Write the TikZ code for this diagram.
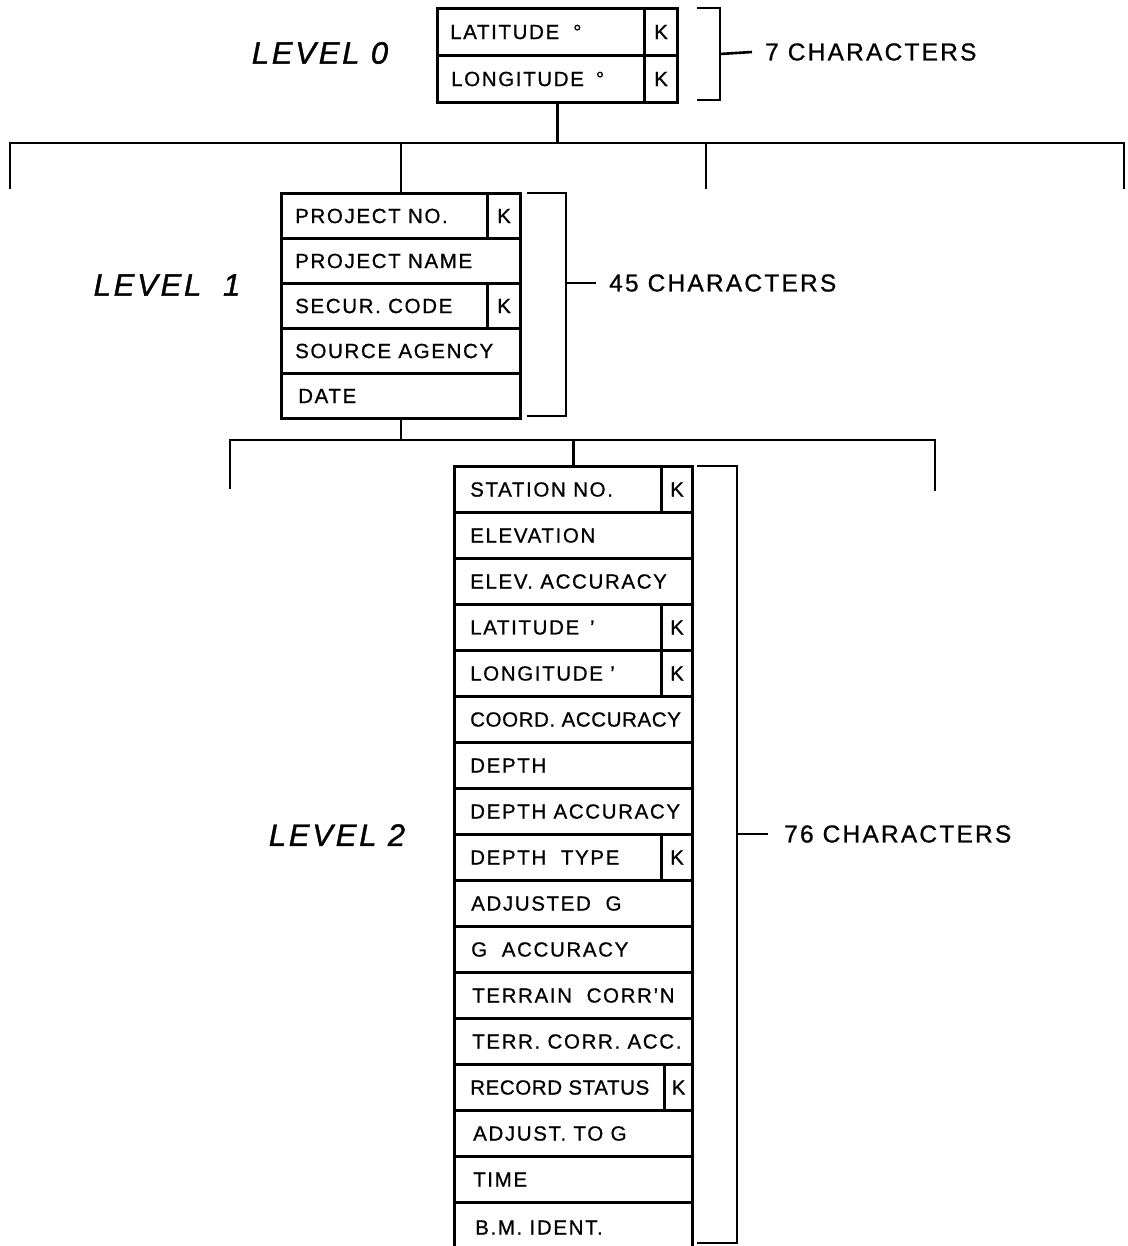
\documentclass[tikz,border=0pt]{standalone}
\usepackage{fontspec}
\setmainfont{Liberation Sans}
\newfontfamily\rowfam{Liberation Sans}[LetterSpace=8,FakeBold=0.8]
\newfontfamily\tightfam{Liberation Sans}[LetterSpace=3,FakeBold=0.8]
\newfontfamily\charfam{Liberation Sans}[LetterSpace=9,FakeBold=0.8]
\newfontfamily\levfam{Liberation Sans}[LetterSpace=9,FakeBold=1.2]
\tikzset{
  cell/.style={draw, line width=3pt, rectangle, inner sep=0pt, font=\rowfam\fontsize{20.5}{24}\selectfont},
  rowtxt/.style={inner sep=0pt, font=\rowfam\fontsize{20.5}{24}\selectfont},
  wire/.style={line width=2.8pt, line cap=rect},
  brk/.style={line width=2.6pt},
  chars/.style={inner sep=0pt, anchor=west, font=\charfam\fontsize{24.5}{28}\selectfont},
  lev/.style={inner sep=0pt, font=\levfam\itshape\fontsize{31}{36}\selectfont}
}
% name, x, y(top), width, height, offset, text
\newcommand\cellrow[7]{%
  \node[cell, minimum width=#4pt, minimum height=#5pt, anchor=north west] (#1) at (#2,#3) {};
  \node[rowtxt, anchor=west] (#1t) at ([xshift=#6pt]#1.west) {#7};}
% name, parent, width, height
\newcommand\kcell[4]{%
  \node[cell, minimum width=#3pt, minimum height=#4pt, anchor=north east] (#1) at (#2.north east) {K};}
\begin{document}
\begin{tikzpicture}[x=1pt,y=-1pt]
\useasboundingbox (0,0) rectangle (1127,1246);
% ---------- LEVEL 0 ----------
\cellrow{a1}{436}{7}{240}{47}{14}{LATITUDE\hspace{14pt}°}
\cellrow{a2}{436}{54}{240}{47}{15}{LONGITUDE\hspace{12pt}°}
\kcell{a1k}{a1}{33}{47}
\kcell{a2k}{a2}{33}{47}
\node[lev] (lev0) at (320,53) {LEVEL 0};
\draw[brk] (697,8) -- (720,8) -- (720,100) -- (697,100);
\coordinate (br0) at (720,54);
\node[chars] (ch0) at (765,52) {7 CHARACTERS};
\draw[brk] (br0) -- ([xshift=-13pt]ch0.west);
% ---------- connectors level 0 -> 1 ----------
\coordinate (bus0) at (557,143);
\coordinate (bus0L) at (10,143);
\coordinate (bus0R) at (1124,143);
\coordinate (d0a) at (10,188);
\coordinate (d0b) at (706,188);
\coordinate (d0c) at (1124,188);
\draw[wire] (a2.south) -- (a2.south |- bus0);
\draw[wire] (d0a) -- (bus0L) -- (bus0R) -- (d0c);
\draw[wire] (d0b |- bus0) -- (d0b);
% ---------- LEVEL 1 ----------
\cellrow{b1}{280}{192}{239}{45}{15}{PROJECT NO.}
\cellrow{b2}{280}{237}{239}{45}{15}{PROJECT NAME}
\cellrow{b3}{280}{282}{239}{45}{15}{SECUR. CODE}
\cellrow{b4}{280}{327}{239}{45}{15}{SOURCE AGENCY}
\cellrow{b5}{280}{372}{239}{45}{18}{DATE}
\kcell{b1k}{b1}{33}{45}
\kcell{b3k}{b3}{33}{45}
\draw[wire] (b1.north |- bus0) -- (b1.north);
\node[lev] (lev1) at (167,285) {LEVEL\hspace{0.7em}1};
\draw[brk] (527,193) -- (566,193) -- (566,416) -- (527,416);
\coordinate (br1) at (566,283);
\node[chars] (ch1) at (609,283) {45 CHARACTERS};
\draw[brk] (br1) -- ([xshift=-13pt]ch1.west);
% ---------- connectors level 1 -> 2 ----------
\coordinate (bus1) at (398,440);
\coordinate (bus1L) at (230,440);
\coordinate (bus1R) at (935,440);
\coordinate (d1a) at (230,488);
\coordinate (d1c) at (935,490);
\draw[wire] (b5.south) -- (b5.south |- bus1);
\draw[wire] (d1a) -- (bus1L) -- (bus1R) -- (d1c);
% ---------- LEVEL 2 ----------
\cellrow{c1}{453}{465}{238}{46}{17}{STATION NO.}
\cellrow{c2}{453}{511}{238}{46}{17}{ELEVATION}
\cellrow{c3}{453}{557}{238}{46}{17}{ELEV. ACCURACY}
\cellrow{c4}{453}{603}{238}{46}{17}{LATITUDE \,’}
\cellrow{c5}{453}{649}{238}{46}{17}{LONGITUDE ’}
\cellrow{c6}{453}{695}{238}{46}{17}{\tightfam COORD. ACCURACY}
\cellrow{c7}{453}{741}{238}{46}{17}{DEPTH}
\cellrow{c8}{453}{787}{238}{46}{17}{DEPTH ACCURACY}
\cellrow{c9}{453}{833}{238}{46}{17}{DEPTH\ \ TYPE}
\cellrow{c10}{453}{879}{238}{46}{18}{ADJUSTED\ \ G}
\cellrow{c11}{453}{925}{238}{46}{18}{G\ \ ACCURACY}
\cellrow{c12}{453}{971}{238}{46}{19}{TERRAIN\ \ CORR’N}
\cellrow{c13}{453}{1017}{238}{46}{19}{TERR. CORR. ACC.}
\cellrow{c14}{453}{1063}{238}{46}{17}{\tightfam RECORD STATUS}
\cellrow{c15}{453}{1109}{238}{46}{20}{ADJUST. TO G}
\cellrow{c16}{453}{1155}{238}{46}{20}{TIME}
\cellrow{c17}{453}{1201}{238}{50}{22}{B.M. IDENT.}
\kcell{c1k}{c1}{31}{46}
\kcell{c4k}{c4}{31}{46}
\kcell{c5k}{c5}{31}{46}
\kcell{c9k}{c9}{31}{46}
\kcell{c14k}{c14}{28}{46}
\draw[wire] (c1.north |- bus1) -- (c1.north);
\node[lev] (lev2) at (337,835) {LEVEL 2};
\draw[brk] (697,466) -- (737,466) -- (737,1243) -- (697,1243);
\coordinate (br2) at (737,834);
\node[chars] (ch2) at (784,834) {76 CHARACTERS};
\draw[brk] (br2) -- ([xshift=-16pt]ch2.west);
\end{tikzpicture}
\end{document}
